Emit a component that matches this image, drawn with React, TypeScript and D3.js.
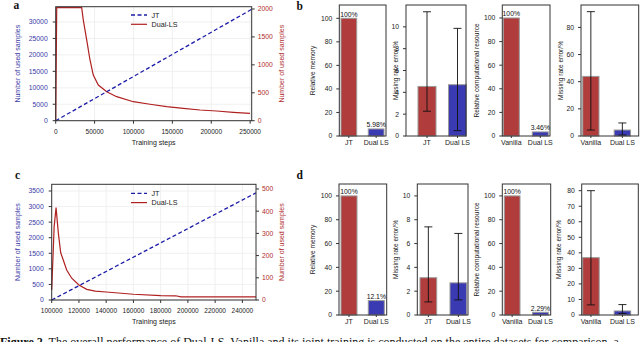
import React from "react";
import * as d3 from "d3";

const W = 640;
const H = 342;

// ---- panel a: used samples over training ----
const stepsA = [0, 252000];
const jtA = [0, 33860];
const dualStepsA = [0, 1300, 33400, 35500, 39900, 44100, 48300, 54800, 65600, 78400, 99800, 121200, 142700, 164000, 185500, 207000, 228300, 249800];
const dualA = [0, 2023, 2023, 1802, 1444, 1087, 818, 639, 519, 430, 340, 294, 251, 222, 192, 174, 150, 132];
const xTicksA = [0, 50000, 100000, 150000, 200000, 250000];
const leftTicksA = [0, 5000, 10000, 15000, 20000, 25000, 30000];
const rightTicksA = [0, 500, 1000, 1500, 2000];

// ---- panel c ----
const stepsC = [100000, 250000];
const jtC = [0, 3440];
const dualStepsC = [100000, 101800, 103200, 104900, 106600, 108500, 111000, 114700, 120000, 125700, 132000, 140000, 160000, 180000, 191000, 195000, 250000];
const dualC = [45, 330, 416, 300, 213, 180, 135, 98, 68, 48, 40, 36, 26, 20, 19, 14, 14];
const xTicksC = [100000, 120000, 140000, 160000, 180000, 200000, 220000, 240000];
const leftTicksC = [0, 500, 1000, 1500, 2000, 2500, 3000, 3500];
const rightTicksC = [0, 100, 200, 300, 400, 500];

// ---- bar panels ----
const jtCats = ["JT", "Dual LS"];
const vanCats = ["Vanilla", "Dual LS"];

const memB = [100, 5.98];
const memLabB = ["100%", "5.98%"];
const errB = [4.54, 4.7];
const errLoB = [2.27, 0.49];
const errHiB = [11.38, 9.86];
const compB = [100, 3.46];
const compLabB = ["100%", "3.46%"];
const errVB = [43.9, 4.4];
const errVLoB = [4.4, 0.7];
const errVHiB = [91.6, 9.6];

const memD = [100, 12.1];
const memLabD = ["100%", "12.1%"];
const errD = [3.13, 2.7];
const errLoD = [1.1, 1.27];
const errHiD = [7.4, 6.85];
const compD = [100, 2.29];
const compLabD = ["100%", "2.29%"];
const errVD = [36.9, 2.6];
const errVLoD = [6.5, 1.0];
const errVHiD = [80.0, 6.7];

const BLUE_TXT = "#3a3aa6";
const RED_TXT = "#b02c2c";
const BAR_RED = "#b03c3c";
const BAR_BLUE = "#3a3ab2";
const SANS = "'Liberation Sans', Arial, sans-serif";
const SERIF = "'Liberation Serif', 'Times New Roman', serif";

const fmt = (v: number) => String(v);

function LinePanel(props: any) {
  const { box, xDomain, xTicks, lDomain, lTicks, rDomain, rTicks, jtX, jtY, dsX, dsY, legendY, lTitleX, rTitleX } = props;
  const x = d3.scaleLinear().domain(xDomain).range([box.l, box.r]);
  const yl = d3.scaleLinear().domain(lDomain).range([box.b, box.t]);
  const yr = d3.scaleLinear().domain(rDomain).range([box.b, box.t]);
  const jtLine = d3.line<number>().x((_, i) => x(jtX[i])).y((d) => yl(d));
  const dsLine = d3.line<number>().x((_, i) => x(dsX[i])).y((d) => yr(d));
  const midY = (box.t + box.b) / 2;
  const midX = (box.l + box.r) / 2;
  return (
    <g fontFamily={SANS}>
      {xTicks.map((t: number) => (
        <line key={"gx" + t} x1={x(t)} x2={x(t)} y1={box.t} y2={box.b} stroke="#ececec" strokeWidth={0.8} />
      ))}
      {lTicks.map((t: number) => (
        <line key={"gy" + t} x1={box.l} x2={box.r} y1={yl(t)} y2={yl(t)} stroke="#ececec" strokeWidth={0.8} />
      ))}
      <path d={dsLine(dsY) || ""} fill="none" stroke="#b02020" strokeWidth={1.2} />
      <path d={jtLine(jtY) || ""} fill="none" stroke="#1c1ca8" strokeWidth={1.3} strokeDasharray="4,2.5" />
      <rect x={box.l} y={box.t} width={box.r - box.l} height={box.b - box.t} fill="none" stroke="#333" strokeWidth={1} />
      {/* bottom axis */}
      {xTicks.map((t: number) => (
        <g key={"x" + t}>
          <line x1={x(t)} x2={x(t)} y1={box.b} y2={box.b + 3} stroke="#333" />
          <text x={x(t)} y={box.b + 13} fontSize={6.5} textAnchor="middle" fill="#222">{fmt(t)}</text>
        </g>
      ))}
      {/* left axis */}
      {lTicks.map((t: number) => (
        <g key={"l" + t}>
          <line x1={box.l - 3} x2={box.l} y1={yl(t)} y2={yl(t)} stroke="#333" />
          <text x={box.l - 8} y={yl(t) + 2.4} fontSize={6.8} textAnchor="end" fill={BLUE_TXT}>{fmt(t)}</text>
        </g>
      ))}
      {/* right axis */}
      {rTicks.map((t: number) => (
        <g key={"r" + t}>
          <line x1={box.r} x2={box.r + 3} y1={yr(t)} y2={yr(t)} stroke="#333" />
          <text x={box.r + 6} y={yr(t) + 2.4} fontSize={6.8} textAnchor="start" fill={RED_TXT}>{fmt(t)}</text>
        </g>
      ))}
      <text transform={`translate(${lTitleX},${midY}) rotate(-90)`} fontSize={7} textAnchor="middle" fill={BLUE_TXT}>Number of used samples</text>
      <text transform={`translate(${rTitleX},${midY}) rotate(-90)`} fontSize={7} textAnchor="middle" fill={RED_TXT}>Number of used samples</text>
      <text x={midX} y={box.b + 24} fontSize={7} textAnchor="middle" fill="#222">Training steps</text>
      {/* legend */}
      <line x1={131} x2={147} y1={legendY} y2={legendY} stroke="#1c1ca8" strokeWidth={1.3} strokeDasharray="4,2.5" />
      <text x={151.5} y={legendY + 2.5} fontSize={7.2} fill="#222">JT</text>
      <line x1={131} x2={147} y1={legendY + 9.3} y2={legendY + 9.3} stroke="#b02020" strokeWidth={1.2} />
      <text x={151.5} y={legendY + 11.8} fontSize={7.2} fill="#222">Dual-LS</text>
    </g>
  );
}

function BarPanel(props: any) {
  const { box, band, barW, cats, values, labels, lo, hi, yMax, ticks, title, titleX } = props;
  const span = band[1] - band[0];
  const inner = 1 - barW / (span - barW);
  const x = d3.scaleBand().domain(cats).range([band[0], band[1]]).paddingInner(inner).paddingOuter(0);
  const y = d3.scaleLinear().domain([0, yMax]).range([box.b, box.t]);
  const bw = x.bandwidth();
  const colors = [BAR_RED, BAR_BLUE];
  return (
    <g fontFamily={SANS}>
      {values.map((v: number, i: number) => (
        <rect key={"b" + i} x={x(cats[i])} y={y(v)} width={bw} height={box.b - y(v)} fill={colors[i]} stroke="#9a9a9a" strokeWidth={1} />
      ))}
      {lo && values.map((_: number, i: number) => {
        const cx = (x(cats[i]) as number) + bw / 2;
        return (
          <g key={"e" + i} stroke="#111" strokeWidth={0.9}>
            <line x1={cx} x2={cx} y1={y(lo[i])} y2={y(hi[i])} />
            <line x1={cx - 4} x2={cx + 4} y1={y(lo[i])} y2={y(lo[i])} />
            <line x1={cx - 4} x2={cx + 4} y1={y(hi[i])} y2={y(hi[i])} />
          </g>
        );
      })}
      {labels && values.map((v: number, i: number) => (
        <text key={"v" + i} x={(x(cats[i]) as number) + bw / 2} y={y(v) - 1.5} fontSize={6.8} textAnchor="middle" fill="#111">{labels[i]}</text>
      ))}
      <rect x={box.l} y={box.t} width={box.r - box.l} height={box.b - box.t} fill="none" stroke="#333" strokeWidth={1} />
      {ticks.map((t: number) => (
        <g key={"t" + t}>
          <line x1={box.l - 3} x2={box.l} y1={y(t)} y2={y(t)} stroke="#333" />
          <text x={box.l - 7} y={y(t) + 2.4} fontSize={6.8} textAnchor="end" fill="#222">{fmt(t)}</text>
        </g>
      ))}
      {cats.map((c: string) => (
        <g key={"c" + c}>
          <line x1={(x(c) as number) + bw / 2} x2={(x(c) as number) + bw / 2} y1={box.b} y2={box.b + 2} stroke="#333" />
          <text x={(x(c) as number) + bw / 2} y={box.b + 8.5} fontSize={7} textAnchor="middle" fill="#222">{c}</text>
        </g>
      ))}
      <text transform={`translate(${titleX},${(box.t + box.b) / 2}) rotate(-90)`} fontSize={6.6} textAnchor="middle" fill="#222">{title}</text>
    </g>
  );
}

export default function App() {
  const rowB = { t: 5, b: 136 };
  const rowD = { t: 184, b: 315 };
  return (
    <svg width={W} height={H} style={{ position: "absolute", left: 0, top: 0, background: "#fff" }}>
      <rect width={W} height={H} fill="#fff" />
      <LinePanel
        box={{ l: 55.7, r: 251.7, t: 6.7, b: 120.7 }}
        xDomain={[0, 252000]} xTicks={xTicksA}
        lDomain={[0, 34650]} lTicks={leftTicksA}
        rDomain={[0, 2041]} rTicks={rightTicksA}
        jtX={stepsA} jtY={jtA} dsX={dualStepsA} dsY={dualA} legendY={15}
        lTitleX={19.5} rTitleX={283.5}
      />
      <LinePanel
        box={{ l: 51.7, r: 256, t: 184.3, b: 300 }}
        xDomain={[100000, 250000]} xTicks={xTicksC}
        lDomain={[0, 3715]} lTicks={leftTicksC}
        rDomain={[0, 521]} rTicks={rightTicksC}
        jtX={stepsC} jtY={jtC} dsX={dualStepsC} dsY={dualC} legendY={193.3}
        lTitleX={20} rTitleX={283.5}
      />

      <BarPanel box={{ l: 339.3, r: 386, ...rowB }} band={[341, 384]} barW={15.7} cats={jtCats} values={memB} labels={memLabB}
        yMax={111.3} ticks={[0, 20, 40, 60, 80, 100]} title="Relative memory" titleX={314.5} />
      <BarPanel box={{ l: 406, r: 466, ...rowB }} band={[418, 466.5]} barW={18} cats={jtCats} values={errB} lo={errLoB} hi={errHiB}
        yMax={12} ticks={[0, 2, 4, 6, 8, 10]} title="Missing rate error/%" titleX={397.5} />
      <BarPanel box={{ l: 502.3, r: 550, ...rowB }} band={[503.3, 548.3]} barW={16} cats={vanCats} values={compB} labels={compLabB}
        yMax={111} ticks={[0, 20, 40, 60, 80, 100]} title="Relative computational resource" titleX={479} />
      <BarPanel box={{ l: 581, r: 638.7, ...rowB }} band={[582.7, 630.5]} barW={16.3} cats={vanCats} values={errVB} lo={errVLoB} hi={errVHiB}
        yMax={96.5} ticks={[0, 20, 40, 60, 80]} title="Missing rate error/%" titleX={562.7} />

      <BarPanel box={{ l: 339, r: 386.7, ...rowD }} band={[341, 384.3]} barW={16} cats={jtCats} values={memD} labels={memLabD}
        yMax={110} ticks={[0, 20, 40, 60, 80, 100]} title="Relative memory" titleX={314.5} />
      <BarPanel box={{ l: 417.3, r: 468, ...rowD }} band={[420, 466.7]} barW={16.7} cats={jtCats} values={errD} lo={errLoD} hi={errHiD}
        yMax={11} ticks={[0, 2, 4, 6, 8, 10]} title="Missing rate error/%" titleX={398.3} />
      <BarPanel box={{ l: 502.3, r: 550.7, ...rowD }} band={[504.3, 548.3]} barW={15.7} cats={vanCats} values={compD} labels={compLabD}
        yMax={110} ticks={[0, 20, 40, 60, 80, 100]} title="Relative computational resource" titleX={479} />
      <BarPanel box={{ l: 581.7, r: 638.3, ...rowD }} band={[582.7, 630.7]} barW={16.5} cats={vanCats} values={errVD} lo={errVLoD} hi={errVHiD}
        yMax={84.3} ticks={[0, 10, 20, 30, 40, 50, 60, 70, 80]} title="Missing rate error/%" titleX={561} />

      <g fontFamily={SERIF} fontWeight="bold" fontSize={11.5} fill="#111">
        <text x={13.5} y={9}>a</text>
        <text x={296.5} y={9.5}>b</text>
        <text x={15} y={178.5}>c</text>
        <text x={296.5} y={178.5}>d</text>
      </g>
      <text x={0} y={345.5} fontFamily={SERIF} fontSize={12} fill="#111">
        <tspan fontWeight="bold">Figure 2.</tspan> The overall performance of Dual-LS. Vanilla and its joint training is conducted on the entire datasets for comparison, a
      </text>
    </svg>
  );
}
